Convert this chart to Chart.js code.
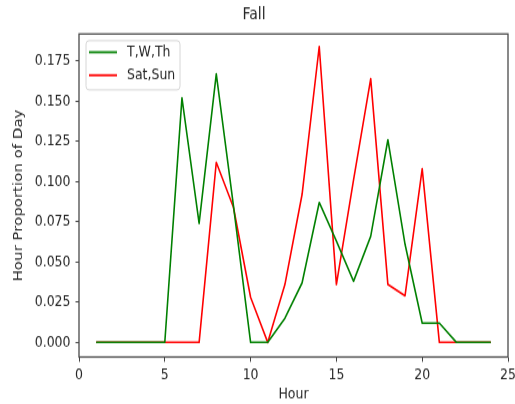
<!DOCTYPE html>
<html>
<head>
<meta charset="utf-8">
<script src="https://cdn.jsdelivr.net/npm/chart.js@4"></script>
<style>
  html, body { margin: 0; padding: 0; background: #fff; }
  #outer { width: 515px; height: 404px; position: relative; }
  /* the reference image is stretched vertically, so the chart is drawn shorter and scaled up */
  #wrap { position: absolute; left: 0; top: 0; width: 515px; height: 337px; transform: scaleY(1.2); transform-origin: 0 0; }
</style>
</head>
<body>
<div id="outer"><div id="wrap"><canvas id="fallChart" width="515" height="337"></canvas></div></div>
<script>
// Data
const hours = [1,2,3,4,5,6,7,8,9,10,11,12,13,14,15,16,17,18,19,20,21,22,23,24];
const weekdayVals = [0,0,0,0,0,0.152,0.074,0.167,0.085,0,0,0.015,0.037,0.087,0.063,0.038,0.066,0.126,0.061,0.012,0.012,0,0,0];
const weekendVals = [0,0,0,0,0,0,0,0.112,0.084,0.028,0,0.036,0.092,0.184,0.036,0.101,0.164,0.036,0.029,0.108,0,0,0,0];
const seriesLabels = ["T,W,Th", "Sat,Sun"];
const yTicks = [0,0.025,0.05,0.075,0.1,0.125,0.15,0.175];
const xTicks = [0,5,10,15,20,25];

const FONT = "'DejaVu Sans', sans-serif";
const INK = "#262626";

// frame around the plot + legend box
const framePlugin = {
  id: "frame",
  afterDatasetsDraw(chart){
    const {ctx, chartArea:a} = chart;
    ctx.save();
    ctx.strokeStyle = "#4a4a4a";
    ctx.lineWidth = 1.3;
    ctx.strokeRect(a.left, a.top, a.right - a.left, a.bottom - a.top);

    // legend (upper left)
    const lx = a.left + 7, ly = a.top + 5.6, lw = 94, lh = 41;
    ctx.fillStyle = "rgba(255,255,255,0.8)";
    ctx.strokeStyle = "#d6d6d6";
    ctx.lineWidth = 1;
    ctx.beginPath();
    ctx.roundRect(lx, ly, lw, lh, 3);
    ctx.fill(); ctx.stroke();
    ctx.font = "12.5px " + FONT;
    ctx.textBaseline = "middle";
    chart.data.datasets.forEach((ds, i) => {
      const y = ly + 9.6 + i * 19.2;
      ctx.strokeStyle = ds.borderColor;
      ctx.lineWidth = 1.8;
      ctx.beginPath();
      ctx.moveTo(lx + 3, y); ctx.lineTo(lx + 31, y);
      ctx.stroke();
      ctx.fillStyle = INK;
      ctx.fillText(ds.label, lx + 41, y + 0.5);
    });
    ctx.restore();
  }
};

const ctx = document.getElementById("fallChart").getContext("2d");
new Chart(ctx, {
  type: "line",
  data: {
    datasets: [
      { label: seriesLabels[0], data: hours.map((h,i)=>({x:h, y:weekdayVals[i]})), borderColor: "#008000", borderWidth: 1.6, borderJoinStyle: "round", pointRadius: 0, tension: 0, fill: false },
      { label: seriesLabels[1], data: hours.map((h,i)=>({x:h, y:weekendVals[i]})), borderColor: "#ff0000", borderWidth: 1.6, borderJoinStyle: "round", pointRadius: 0, tension: 0, fill: false }
    ]
  },
  options: {
    responsive: false,
    animation: false,
    devicePixelRatio: 1,
    layout: { padding: { left: 0, right: 7, top: 0, bottom: 0 } },
    plugins: {
      legend: { display: false },
      tooltip: { enabled: false },
      title: {
        display: true, text: "Fall", color: INK,
        font: { family: FONT, size: 14, weight: "normal" },
        padding: { top: 4.4, bottom: 7.1 }
      }
    },
    scales: {
      x: {
        type: "linear", min: 0, max: 25,
        afterBuildTicks(s){ s.ticks = xTicks.map(v=>({value:v})); },
        afterFit(s){ s.height = 39.5; s.paddingLeft = 0; s.paddingRight = 0; },
        border: { display: false },
        grid: { drawOnChartArea: false, drawTicks: true, tickLength: 4, color: "#444" },
        ticks: { color: INK, font: { family: FONT, size: 12.5 }, padding: 3.5, maxRotation: 0 },
        title: { display: true, text: "Hour", color: INK, font: { family: FONT, size: 12.5 }, padding: { top: 0, bottom: 1.2 } }
      },
      y: {
        type: "linear", min: -0.0091, max: 0.1918,
        afterBuildTicks(s){ s.ticks = yTicks.map(v=>({value:v})); },
        afterFit(s){ s.width = 79; s.paddingTop = 0; s.paddingBottom = 0; },
        border: { display: false },
        grid: { drawOnChartArea: false, drawTicks: true, tickLength: 3.5, color: "#444" },
        ticks: { color: INK, font: { family: FONT, size: 12.5 }, padding: 5, callback: v => v.toFixed(3) },
        title: { display: true, text: "Hour Proportion of Day", color: INK, font: { family: FONT, size: 12.5 }, padding: { top: 11.5, bottom: 0 } }
      }
    }
  },
  plugins: [framePlugin]
});
</script>
</body>
</html>
